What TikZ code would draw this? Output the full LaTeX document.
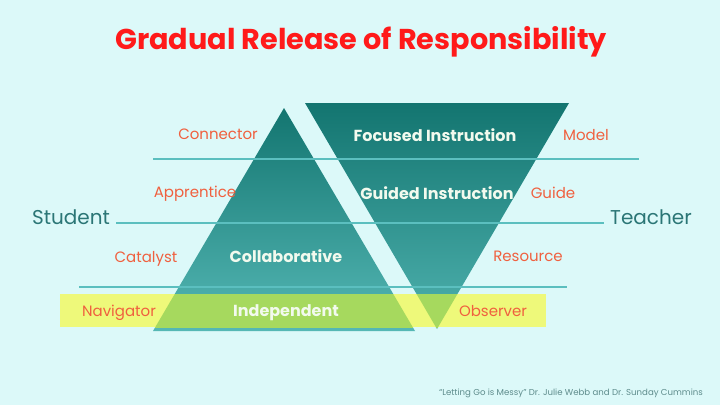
\documentclass[tikz,border=0pt]{standalone}
\usepackage{fontspec}
\setmainfont{Poppins}
\usetikzlibrary{calc}
\definecolor{bg}{HTML}{DCF9F9}
\definecolor{titlered}{HTML}{FF1A1A}
\definecolor{rolered}{HTML}{F0603F}
\definecolor{sideteal}{HTML}{2B7676}
\definecolor{tritop}{HTML}{137570}
\definecolor{tribot}{HTML}{55B8B5}
\definecolor{linecol}{HTML}{5BBFBF}
\definecolor{bandyellow}{HTML}{EEF97A}
\definecolor{bandgreen}{HTML}{A6D95E}
\definecolor{labwhite}{HTML}{F2FAEE}
\definecolor{citecol}{HTML}{5E8C8C}
\tikzset{
  role/.style={text=rolered, font=\fontsize{15}{15}\selectfont, inner sep=0pt},
  side/.style={text=sideteal, font=\fontsize{20}{20}\selectfont, inner sep=0pt},
  stage/.style={text=labwhite, font=\fontsize{16}{16}\selectfont\bfseries, inner sep=0pt},
  rule/.style={draw=linecol, line width=1.5pt},
}
\begin{document}
\begin{tikzpicture}[x=1pt,y=-1pt]
\fill[bg] (0,0) rectangle (720,405);
\useasboundingbox (0,0) rectangle (720,405);
% coordinates
\coordinate (LA) at (284,108);
\coordinate (LL) at (153,331);
\coordinate (LR) at (415,331);
\coordinate (RL) at (305,103);
\coordinate (RR) at (569,103);
\coordinate (RA) at (437,329);
% triangles
\shade[top color=tritop, bottom color=tribot] (LA) -- (LR) -- (LL) -- cycle;
\shade[top color=tritop, bottom color=tribot!90!tritop] (RL) -- (RR) -- (RA) -- cycle;
% band
\fill[bandyellow] (60,294) rectangle (546,327);
\begin{scope}
  \clip (60,294) rectangle (546,327);
  \fill[bandgreen] (LA) -- (LR) -- (LL) -- cycle;
  \fill[bandgreen] (RL) -- (RR) -- (RA) -- cycle;
\end{scope}
% rules
\coordinate (r1a) at (153,159); \coordinate (r1b) at (639,159);
\coordinate (r2a) at (116,223); \coordinate (r2b) at (604,223);
\coordinate (r3a) at (79,287);  \coordinate (r3b) at (567,287);
\draw[rule] (r1a) -- (r1b);
\draw[rule] (r2a) -- (r2b);
\draw[rule] (r3a) -- (r3b);
% title
\node[text=titlered, font=\fontsize{28.7}{28.7}\selectfont\bfseries, inner sep=0pt] (title) at (361,42) {Gradual Release of Responsibility};
% roles
\node[role] (connector) at (218,134) {Connector};
\node[role] (apprentice) at (195,193.5) {Apprentice};
\node[role] (catalyst) at (146,258.5) {Catalyst};
\node[role] (navigator) at (119,312.5) {Navigator};
\node[role] (model) at (586,135) {Model};
\node[role] (guide) at (553,193) {Guide};
\node[role] (resource) at (528,256) {Resource};
\node[role] (observer) at (493,311) {Observer};
% sides
\node[side] (student) at (71,217) {Student};
\node[side] (teacher) at (651,217) {Teacher};
% stages
\node[stage] (focused) at (435,135) {Focused Instruction};
\node[stage] (guided) at (437,193) {Guided Instruction};
\node[stage] (collab) at (286,256) {Collaborative};
\node[stage] (indep) at (286,312.5) {Independent};
% citation
\node[text=citecol, font=\fontsize{8.6}{8.6}\selectfont, inner sep=0pt] (cite) at (571,393) {“Letting Go is Messy” Dr. Julie Webb and Dr. Sunday Cummins};
\end{tikzpicture}
\end{document}
